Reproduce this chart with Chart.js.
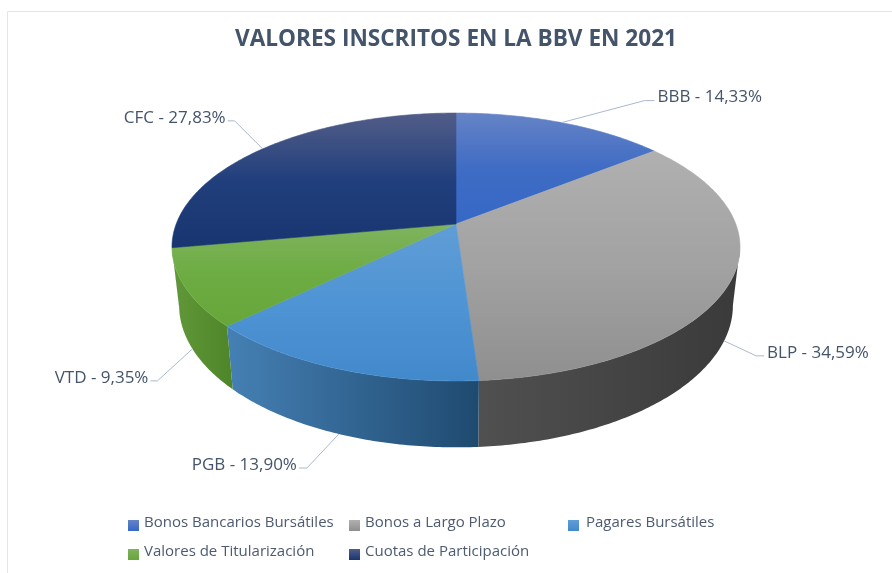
<!DOCTYPE html>
<html>
<head>
  <title>Valores inscritos en la BBV en 2021</title>
  <script src="https://cdn.jsdelivr.net/npm/chart.js"></script>
  <style>
    html, body { margin: 0; padding: 0; background: #fff; overflow: hidden; }
    canvas { display: block; }
  </style>
</head>
<body>
  <canvas id="grafico" width="892" height="573"></canvas>

  <script>
    var categorias = ["Bonos Bancarios Bursátiles", "Bonos a Largo Plazo", "Pagares Bursátiles", "Valores de Titularización", "Cuotas de Participación"];
    var siglas = ["BBB", "BLP", "PGB", "VTD", "CFC"];
    var valores = [14.33, 34.59, 13.90, 9.35, 27.83];
    var titulo = "VALORES INSCRITOS EN LA BBV EN 2021";

    // colores de cara superior (claro, medio, oscuro) y de pared (izquierda, derecha)
    var coloresCara = [
      ["#6683c6", "#3f6cc4", "#3568c6"],
      ["#b0b0b0", "#a2a2a2", "#8f8f8f"],
      ["#609dd6", "#4f94d4", "#4289cc"],
      ["#7fb35e", "#6dac42", "#66a63a"],
      ["#525d88", "#213f7c", "#183570"]
    ];
    var coloresPared = [
      ["#2f5597", "#2f5597"],
      ["#505050", "#3a3a3a"],
      ["#4580b4", "#1f4a70"],
      ["#619838", "#4e8529"],
      ["#1a3060", "#1a3060"]
    ];
    var colorTexto = "#44546a";
    var colorGuia = "#a9b9cd";

    // proyeccion del disco: perspectiva ajustada a la elipse del grafico
    var cx = 456, cy = 224, a = 279.8, b = 130, s = 0.1716;
    var cyBase = 281, bBase = 137.8, kBase = 0.975;

    function proyectar(theta, base) {
      var u = Math.sin(theta), v = -Math.cos(theta), w = 1 - s * v;
      if (base) return { x: cx + a * kBase * u / w, y: cyBase + bBase * v / w };
      return { x: cx + a * u / w, y: cy + b * v / w };
    }

    function puntosArco(ini, fin, base) {
      var pts = [], n = Math.max(4, Math.ceil((fin - ini) / 0.012));
      for (var i = 0; i <= n; i++) pts.push(proyectar(ini + (fin - ini) * i / n, base));
      return pts;
    }

    function trazar(ctx, pts) {
      ctx.beginPath();
      pts.forEach(function (p, i) { i ? ctx.lineTo(p.x, p.y) : ctx.moveTo(p.x, p.y); });
      ctx.closePath();
    }

    function dibujarTarta(chart) {
      var ctx = chart.ctx, arcos = chart.getDatasetMeta(0).data;
      var tramos = arcos.map(function (arc) {
        var p = arc.getProps(["startAngle", "endAngle"], true);
        return { ini: p.startAngle + Math.PI / 2, fin: p.endAngle + Math.PI / 2 };
      });

      // paredes: solo la parte visible, entre las dos tangentes laterales
      var tan1 = Math.acos(-s), tan2 = 2 * Math.PI - tan1;
      tramos.forEach(function (t, i) {
        var ini = Math.max(t.ini, tan1), fin = Math.min(t.fin, tan2);
        if (fin <= ini) return;
        var arriba = puntosArco(ini, fin, false), abajo = puntosArco(ini, fin, true);
        var xs = arriba.concat(abajo).map(function (p) { return p.x; });
        var g = ctx.createLinearGradient(Math.min.apply(null, xs), 0, Math.max.apply(null, xs), 0);
        g.addColorStop(0, coloresPared[i][0]);
        g.addColorStop(1, coloresPared[i][1]);
        ctx.beginPath();
        for (var k = 0; k < arriba.length - 1; k++) {
          ctx.moveTo(arriba[k].x, arriba[k].y);
          ctx.lineTo(arriba[k + 1].x, arriba[k + 1].y);
          ctx.lineTo(abajo[k + 1].x, abajo[k + 1].y);
          ctx.lineTo(abajo[k].x, abajo[k].y);
          ctx.closePath();
        }
        ctx.fillStyle = g;
        ctx.fill();
      });

      // caras superiores
      tramos.forEach(function (t, i) {
        var pts = [{ x: cx, y: cy }].concat(puntosArco(t.ini, t.fin, false));
        var ys = pts.map(function (p) { return p.y; });
        var g = ctx.createLinearGradient(0, Math.min.apply(null, ys), 0, Math.max.apply(null, ys));
        g.addColorStop(0, coloresCara[i][0]);
        g.addColorStop(0.5, coloresCara[i][1]);
        g.addColorStop(1, coloresCara[i][2]);
        trazar(ctx, pts);
        ctx.fillStyle = g;
        ctx.strokeStyle = g;
        ctx.lineWidth = 0.6;
        ctx.fill();
        ctx.stroke();
      });

      return tramos;
    }

    // codo de cada guia respecto a su punto de anclaje y lado del texto
    var guias = [
      { base: false, dx: 83, dy: -22, largo: 10, lado: 1 },
      { base: true, dx: 32, dy: 15, largo: 8, lado: 1 },
      { base: true, dx: -32, dy: 34, largo: 8, lado: -1 },
      { base: true, dx: -35, dy: 32, largo: 7, lado: -1 },
      { base: false, dx: -28, dy: -28, largo: 7, lado: -1 }
    ];

    function dibujarEtiquetas(chart, tramos) {
      var ctx = chart.ctx;
      ctx.font = "17px 'Open Sans'";
      ctx.textBaseline = "middle";
      tramos.forEach(function (t, i) {
        var g = guias[i], p = proyectar((t.ini + t.fin) / 2, g.base);
        var cod = { x: p.x + g.dx, y: p.y + g.dy };
        var finX = cod.x + g.lado * g.largo;
        ctx.beginPath();
        ctx.moveTo(p.x, p.y);
        ctx.lineTo(cod.x, cod.y);
        ctx.lineTo(finX, cod.y);
        ctx.strokeStyle = colorGuia;
        ctx.lineWidth = 1;
        ctx.stroke();
        ctx.fillStyle = colorTexto;
        ctx.textAlign = g.lado > 0 ? "left" : "right";
        var txt = siglas[i] + " - " + valores[i].toFixed(2).replace(".", ",") + "%";
        ctx.fillText(txt, finX + (g.lado > 0 ? 3 : -2), cod.y - 3);
      });
    }

    var columnasLeyenda = [128, 349, 568], columnasTexto = [144, 365, 586], filasLeyenda = [520, 549];

    function dibujarLeyenda(chart) {
      var ctx = chart.ctx;
      ctx.font = "15px 'Open Sans'";
      ctx.textBaseline = "middle";
      ctx.textAlign = "left";
      categorias.forEach(function (c, i) {
        var x = columnasLeyenda[i % 3], y = filasLeyenda[Math.floor(i / 3)];
        var g = ctx.createLinearGradient(0, y, 0, y + 11);
        g.addColorStop(0, coloresCara[i][0]);
        g.addColorStop(1, coloresCara[i][2]);
        ctx.fillStyle = g;
        ctx.fillRect(x, y, 11, 11);
        ctx.fillStyle = "#4d5a70";
        ctx.fillText(c, columnasTexto[i % 3], y + 3);
      });
    }

    var plugin3d = {
      id: "tarta3d",
      beforeDraw: function (chart) {
        var ctx = chart.ctx;
        ctx.save();
        ctx.strokeStyle = "#e4e4ee";
        ctx.lineWidth = 1;
        ctx.beginPath();
        ctx.moveTo(7.5, chart.height);
        ctx.lineTo(7.5, 11.5);
        ctx.lineTo(chart.width, 11.5);
        ctx.stroke();
        ctx.restore();
      },
      beforeDatasetsDraw: function (chart) {
        var ctx = chart.ctx;
        ctx.save();
        var tramos = dibujarTarta(chart);
        dibujarEtiquetas(chart, tramos);
        dibujarLeyenda(chart);
        ctx.restore();
        return false;
      }
    };

    new Chart(document.getElementById("grafico").getContext("2d"), {
      type: "pie",
      data: {
        labels: categorias,
        datasets: [{ data: valores, backgroundColor: coloresCara.map(function (c) { return c[1]; }) }]
      },
      plugins: [plugin3d],
      options: {
        responsive: false,
        animation: false,
        layout: { padding: { left: 20, top: 26 } },
        plugins: {
          legend: { display: false },
          tooltip: { enabled: false },
          title: {
            display: true,
            text: titulo,
            color: colorTexto,
            font: { family: "'Open Sans'", size: 22.6, weight: "700" },
            padding: 0
          }
        }
      }
    });
  </script>
</body>
</html>
